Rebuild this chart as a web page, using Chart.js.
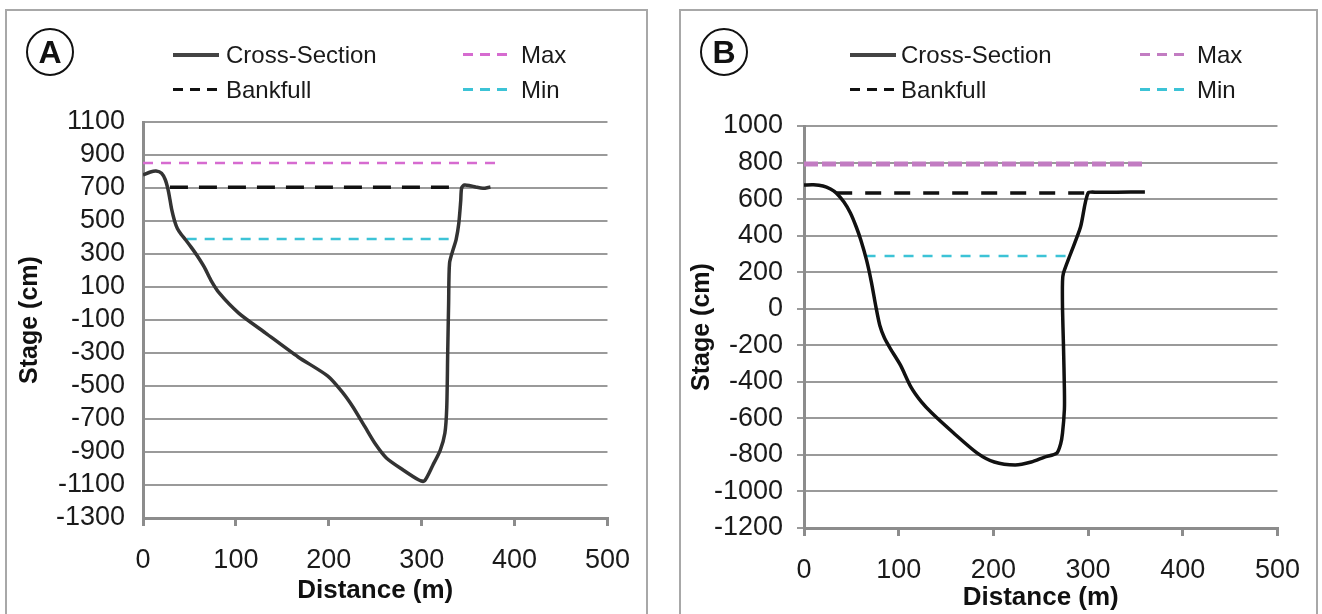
<!DOCTYPE html>
<html lang="en">
<head>
<meta charset="UTF-8">
<script src="https://cdn.jsdelivr.net/npm/chart.js"></script>
<title>Cross-sections A and B</title>
<style>
    body { margin: 0; width: 1322px; height: 614px; background: #fff; position: relative; overflow: hidden;
           font-family: 'Liberation Sans', Arial, sans-serif; }
    .frame { position: absolute; border: 2px solid #a8a8a8; }
    .chart { position: absolute; }
    .badge { position: absolute; width: 44px; height: 44px; border: 2px solid #111; border-radius: 50%;
             font-weight: bold; font-size: 32px; line-height: 45px; text-align: center; color: #111; }
    .key { position: absolute; font-size: 24px; line-height: 28px; color: #1a1a1a; }
    .swatch { position: absolute; height: 4px; }
</style>
</head>
<body>
    <div class="frame" style="left:5px;top:9px;width:639px;height:640px"></div>
    <div class="frame" style="left:679px;top:9px;width:635px;height:640px"></div>

    <canvas id="chartA" class="chart" width="643" height="604" style="left:5px;top:10px"></canvas>
    <canvas id="chartB" class="chart" width="638" height="604" style="left:680px;top:10px"></canvas>

    <!-- panel A legend -->
    <div class="badge" style="left:26px;top:28px">A</div>
    <div class="swatch" style="left:173px;top:53px;width:46px;background:#444"></div>
    <div class="key" style="left:226px;top:41px">Cross-Section</div>
    <div class="swatch" style="left:173px;top:88px;width:44px;height:3px;background:repeating-linear-gradient(90deg,#111 0 10px,transparent 10px 17px)"></div>
    <div class="key" style="left:226px;top:76px">Bankfull</div>
    <div class="swatch" style="left:463px;top:53px;width:44px;height:3px;background:repeating-linear-gradient(90deg,#d66bd0 0 10px,transparent 10px 17px)"></div>
    <div class="key" style="left:521px;top:41px">Max</div>
    <div class="swatch" style="left:463px;top:88px;width:44px;height:3px;background:repeating-linear-gradient(90deg,#3cc3d6 0 10px,transparent 10px 17px)"></div>
    <div class="key" style="left:521px;top:76px">Min</div>

    <!-- panel B legend -->
    <div class="badge" style="left:700px;top:28px">B</div>
    <div class="swatch" style="left:850px;top:53px;width:46px;background:#444"></div>
    <div class="key" style="left:901px;top:41px">Cross-Section</div>
    <div class="swatch" style="left:850px;top:88px;width:44px;height:3px;background:repeating-linear-gradient(90deg,#111 0 10px,transparent 10px 17px)"></div>
    <div class="key" style="left:901px;top:76px">Bankfull</div>
    <div class="swatch" style="left:1140px;top:53px;width:44px;height:3px;background:repeating-linear-gradient(90deg,#c27cc2 0 10px,transparent 10px 17px)"></div>
    <div class="key" style="left:1197px;top:41px">Max</div>
    <div class="swatch" style="left:1140px;top:88px;width:44px;height:3px;background:repeating-linear-gradient(90deg,#3cc3d6 0 10px,transparent 10px 17px)"></div>
    <div class="key" style="left:1197px;top:76px">Min</div>

<script>
    // panel A cross-section: distance (m) and stage (cm)
    const distA = [0, 8, 14, 20, 24, 27, 29, 31, 34, 37, 41, 46, 52, 58, 66, 73, 82, 103, 132, 167,
        199, 215, 226, 239, 250, 262, 280, 297, 303, 312, 320, 325, 327, 328, 329, 330, 334, 337, 340, 342,
        343, 346, 352, 358, 366, 374];
    const stageA = [779, 797, 803, 790, 750, 690, 630, 567, 500, 455, 420, 385, 340, 292, 220, 142, 64, -58, -179, -324,
        -440, -540, -627, -748, -850, -936, -1009, -1070, -1075, -980, -888, -785, -627, -300, 0, 245, 330, 385, 488, 620,
        700, 718, 714, 706, 698, 706];

    // panel B cross-section
    const distB = [0, 10, 20, 28, 34, 42, 49, 55, 60, 66, 71, 76, 80, 85, 92, 102, 113, 124, 135, 158,
        183, 201, 223, 240, 254, 267, 271, 273, 275, 275, 274, 273, 273, 274, 281, 292, 300, 310, 330, 360];
    const stageB = [677, 678, 672, 655, 633, 585, 524, 450, 376, 267, 150, 9, -90, -160, -225, -310, -429, -510, -571, -680,
        -790, -839, -855, -839, -812, -790, -740, -680, -550, -445, -200, 0, 150, 195, 294, 447, 633, 637, 638, 639];

    // water levels: Bankfull, Max, Min
    const levelNames = ['Bankfull', 'Max', 'Min'];
    const levelA = [705, 852, 391];
    const levelFromA = [29, 0, 47];
    const levelToA = [334, 382, 336];
    const levelB = [633, 792, 288];
    const levelFromB = [34, 0, 65];
    const levelToB = [300, 357, 281];

    const xTicks = [0, 100, 200, 300, 400, 500];

    Chart.defaults.font.family = "'Liberation Sans', Arial, sans-serif";
    Chart.defaults.color = '#1a1a1a';

    function makeChart(id, dist, stage, level, from, to, cfg) {
        const points = dist.map((d, i) => ({ x: d, y: stage[i] }));
        const datasets = [{
            label: 'Cross-Section',
            data: points,
            borderColor: cfg.lineColor,
            borderWidth: 3.5,
            tension: 0.25,
            pointRadius: 0,
            order: 0
        }];
        levelNames.forEach((name, i) => {
            datasets.push({
                label: name,
                data: [{ x: from[i], y: level[i] }, { x: to[i], y: level[i] }],
                borderColor: cfg.levelColors[i],
                borderWidth: cfg.levelWidths[i],
                borderDash: cfg.levelDash[i],
                pointRadius: 0,
                order: 1
            });
        });

        new Chart(document.getElementById(id), {
            type: 'scatter',
            data: { datasets: datasets },
            options: {
                responsive: false,
                animation: false,
                showLine: true,
                layout: { padding: { left: 0, top: cfg.top, right: cfg.right, bottom: 0 } },
                plugins: { legend: { display: false }, tooltip: { enabled: false } },
                scales: {
                    x: {
                        type: 'linear',
                        min: 0, max: 500,
                        afterBuildTicks: s => { s.ticks = xTicks.map(v => ({ value: v })); },
                        afterFit: s => { s.height = cfg.xHeight; },
                        ticks: { font: { size: 27 }, padding: cfg.xPad, maxRotation: 0, color: '#1a1a1a' },
                        grid: { drawOnChartArea: false, drawTicks: true, tickLength: 8, color: '#8c8c8c', lineWidth: 3 },
                        border: { color: '#8c8c8c', width: 3 },
                        title: { display: true, text: 'Distance (m)', font: { size: 26, weight: 'bold' },
                                 color: '#111', padding: { top: 0, bottom: cfg.xTitlePad } }
                    },
                    y: {
                        min: cfg.yMin, max: cfg.yMax,
                        afterFit: s => { s.width = cfg.yWidth; },
                        ticks: { stepSize: 200, autoSkip: false, font: { size: 27 }, padding: cfg.yPad, color: '#1a1a1a',
                                 callback: v => String(v) },
                        grid: { color: '#9a9a9a', lineWidth: 2, drawTicks: cfg.yTicks, tickLength: 7 },
                        border: { color: '#8c8c8c', width: 3 },
                        title: { display: true, text: 'Stage (cm)', font: { size: 25, weight: 'bold' },
                                 color: '#111', padding: { top: cfg.yTitlePad, bottom: 0 } }
                    }
                }
            }
        });
    }

    makeChart('chartA', distA, stageA, levelA, levelFromA, levelToA, {
        lineColor: '#333333',
        levelColors: ['#111111', '#d66bd0', '#3cc3d6'],
        levelWidths: [3.5, 2.5, 2.5],
        levelDash: [[18, 11], [10, 8], [10, 8]],
        top: 112, right: 35, yWidth: 138, xHeight: 96,
        yMin: -1300, yMax: 1100, yPad: 18, yTicks: false, xPad: 18,
        xTitlePad: 8, yTitlePad: 10
    });

    makeChart('chartB', distB, stageB, levelB, levelFromB, levelToB, {
        lineColor: '#111111',
        levelColors: ['#111111', '#c27cc2', '#3cc3d6'],
        levelWidths: [3.5, 5, 2.5],
        levelDash: [[16, 13], [14, 4], [10, 9]],
        top: 116, right: 29, yWidth: 124, xHeight: 86,
        yMin: -1200, yMax: 1000, yPad: 14, yTicks: true, xPad: 18,
        xTitlePad: 1, yTitlePad: 7
    });
</script>
</body>
</html>
